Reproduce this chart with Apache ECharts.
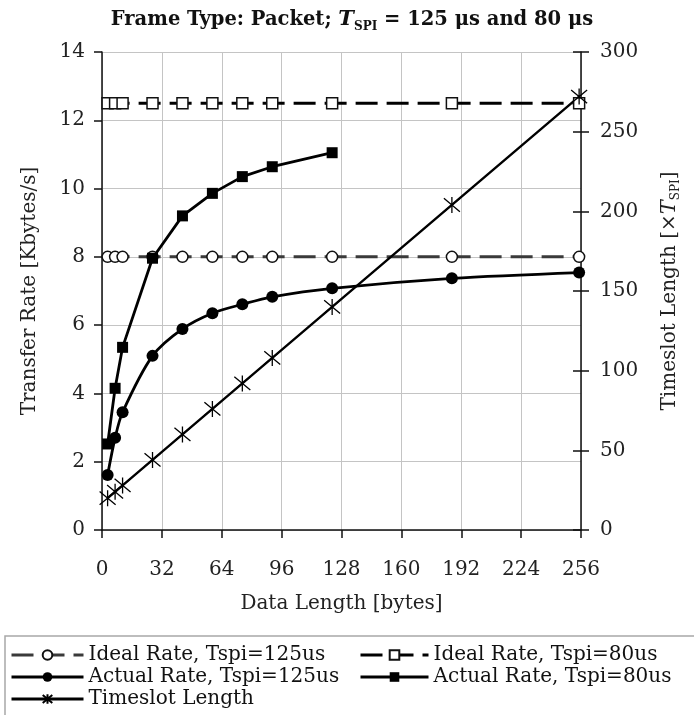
<!DOCTYPE html>
<html>
<head>
<meta charset="utf-8">
<title>Frame Type: Packet</title>
<script src="https://cdn.jsdelivr.net/npm/echarts@6/dist/echarts.min.js"></script>
<style>
  html, body { margin: 0; padding: 0; background: #fff; }
  #chart { width: 694px; height: 715px; }
</style>
</head>
<body>
<div id="chart"></div>
<script>
// data
const dataLength = [3, 7, 11, 27, 43, 59, 75, 91, 123, 187, 255]
const idealRate125 = [8, 8, 8, 8, 8, 8, 8, 8, 8, 8, 8]
const idealRate80 = [12.5, 12.5, 12.5, 12.5, 12.5, 12.5, 12.5, 12.5, 12.5, 12.5, 12.5]
const actualRate125 = [1.61, 2.7, 3.45, 5.1, 5.89, 6.35, 6.61, 6.83, 7.08, 7.37, 7.54]
const actualRate80 = [2.52, 4.15, 5.35, 7.96, 9.2, 9.86, 10.35, 10.64, 11.05]
const timeslot = [20, 24, 28, 44, 60, 76, 92, 108, 140, 204, 272]

const serif = 'DejaVu Serif'
const star = 'path://M0,0L10,10M10,0L0,10M5,-1L5,11'

function pairs (xs, ys) {
  return ys.map((v, i) => [xs[i], v])
}

let myChart = echarts.init(document.getElementById('chart'))

let tickStyle = { fontFamily: serif, fontSize: 20, color: '#222' }
let nameStyle = { fontFamily: serif, fontSize: 20, color: '#222' }
let legendText = { fontFamily: serif, fontSize: 20, color: '#111', lineHeight: 22 }

myChart.setOption({
  animation: false,
  title: {
    left: 347,
    top: 2,
    textAlign: 'center',
    text: '{b|Frame Type: Packet; }{t|T}{s|SPI}{b| = 125 μs and 80 μs}',
    textStyle: {
      rich: {
        b: { fontFamily: serif, fontSize: 19.5, fontWeight: 'bold', color: '#111', lineHeight: 26 },
        t: { fontFamily: serif, fontSize: 21, fontStyle: 'italic', fontWeight: 'bold', color: '#111', lineHeight: 26 },
        s: { fontFamily: serif, fontSize: 12, fontWeight: 'bold', color: '#111', lineHeight: 17, verticalAlign: 'bottom' }
      }
    }
  },
  grid: {
    left: 102,
    right: 113,
    top: 52,
    bottom: 185
  },
  xAxis: {
    type: 'value',
    min: 0,
    max: 256,
    interval: 32,
    name: 'Data Length [bytes]',
    nameLocation: 'middle',
    nameGap: 64,
    nameTextStyle: nameStyle,
    axisLine: { lineStyle: { color: '#111', width: 1.5 } },
    axisTick: { length: 8, lineStyle: { color: '#111', width: 1.5 } },
    axisLabel: Object.assign({ margin: 30 }, tickStyle),
    splitLine: { lineStyle: { color: '#c4c4c4', width: 1 } }
  },
  yAxis: [{
    type: 'value',
    min: 0,
    max: 14,
    interval: 2,
    name: 'Transfer Rate [Kbytes/s]',
    nameLocation: 'middle',
    nameGap: 62,
    nameTextStyle: nameStyle,
    axisLine: { show: true, lineStyle: { color: '#111', width: 1.5 } },
    axisTick: { show: true, length: 8, lineStyle: { color: '#111', width: 1.5 } },
    axisLabel: Object.assign({ margin: 17 }, tickStyle),
    splitLine: { lineStyle: { color: '#c4c4c4', width: 1 } }
  }, {
    type: 'value',
    position: 'right',
    min: 0,
    max: 300,
    interval: 50,
    name: '{n|Timeslot Length [×}{t|T}{s|SPI}{n|]}',
    nameLocation: 'middle',
    nameGap: 77,
    nameTextStyle: {
      rich: {
        n: { fontFamily: serif, fontSize: 20, color: '#222', lineHeight: 24 },
        t: { fontFamily: serif, fontSize: 21, fontStyle: 'italic', color: '#222', lineHeight: 24 },
        s: { fontFamily: serif, fontSize: 12, color: '#222', lineHeight: 15, verticalAlign: 'bottom' }
      }
    },
    axisLine: { show: true, lineStyle: { color: '#111', width: 1.5 } },
    axisTick: { show: true, length: 8, lineStyle: { color: '#111', width: 1.5 } },
    axisLabel: Object.assign({ margin: 19 }, tickStyle),
    splitLine: { show: false }
  }, {
    // inner half of the crossing ticks on the right axis
    type: 'value',
    position: 'right',
    min: 0,
    max: 300,
    interval: 50,
    axisLine: { show: false },
    axisTick: { show: true, inside: true, length: 8, lineStyle: { color: '#111', width: 1.5 } },
    axisLabel: { show: false },
    splitLine: { show: false }
  }],
  legend: [{
    left: 10,
    top: 644,
    padding: 0,
    orient: 'vertical',
    itemWidth: 72,
    itemHeight: 12,
    itemGap: 0,
    lineStyle: { width: 3 },
    textStyle: legendText,
    data: ['Ideal Rate, Tspi=125us', 'Actual Rate, Tspi=125us', 'Timeslot Length']
  }, {
    left: 359,
    top: 644,
    padding: 0,
    orient: 'vertical',
    itemWidth: 68,
    itemHeight: 12,
    itemGap: 0,
    lineStyle: { width: 3 },
    textStyle: legendText,
    data: ['Ideal Rate, Tspi=80us', 'Actual Rate, Tspi=80us']
  }],
  graphic: [{
    type: 'rect',
    silent: true,
    shape: { x: 5, y: 636, width: 700, height: 90 },
    style: { fill: 'none', stroke: '#a8a8a8', lineWidth: 1.5 }
  }],
  series: [{
    name: 'Ideal Rate, Tspi=125us',
    type: 'line',
    data: pairs(dataLength, idealRate125),
    symbol: 'circle',
    symbolSize: 11,
    lineStyle: { color: '#3a3a3a', width: 3, type: [22, 9] },
    itemStyle: { color: '#fff', borderColor: '#111', borderWidth: 1.5 }
  }, {
    name: 'Ideal Rate, Tspi=80us',
    type: 'line',
    data: pairs(dataLength, idealRate80),
    symbol: 'rect',
    symbolSize: 11,
    lineStyle: { color: '#000', width: 3, type: [22, 9] },
    itemStyle: { color: '#fff', borderColor: '#111', borderWidth: 1.5 }
  }, {
    name: 'Actual Rate, Tspi=125us',
    type: 'line',
    smooth: 0.3,
    data: pairs(dataLength, actualRate125),
    symbol: 'circle',
    symbolSize: 12,
    lineStyle: { color: '#000', width: 2.8 },
    itemStyle: { color: '#000' }
  }, {
    name: 'Actual Rate, Tspi=80us',
    type: 'line',
    data: pairs(dataLength, actualRate80),
    symbol: 'rect',
    symbolSize: 11,
    lineStyle: { color: '#000', width: 2.8 },
    itemStyle: { color: '#000' }
  }, {
    name: 'Timeslot Length',
    type: 'line',
    yAxisIndex: 1,
    data: pairs(dataLength, timeslot),
    symbol: star,
    symbolSize: 16,
    lineStyle: { color: '#000', width: 2.4 },
    itemStyle: { color: '#000', borderColor: '#000', borderWidth: 1.3 }
  }]
})
</script>
</body>
</html>
